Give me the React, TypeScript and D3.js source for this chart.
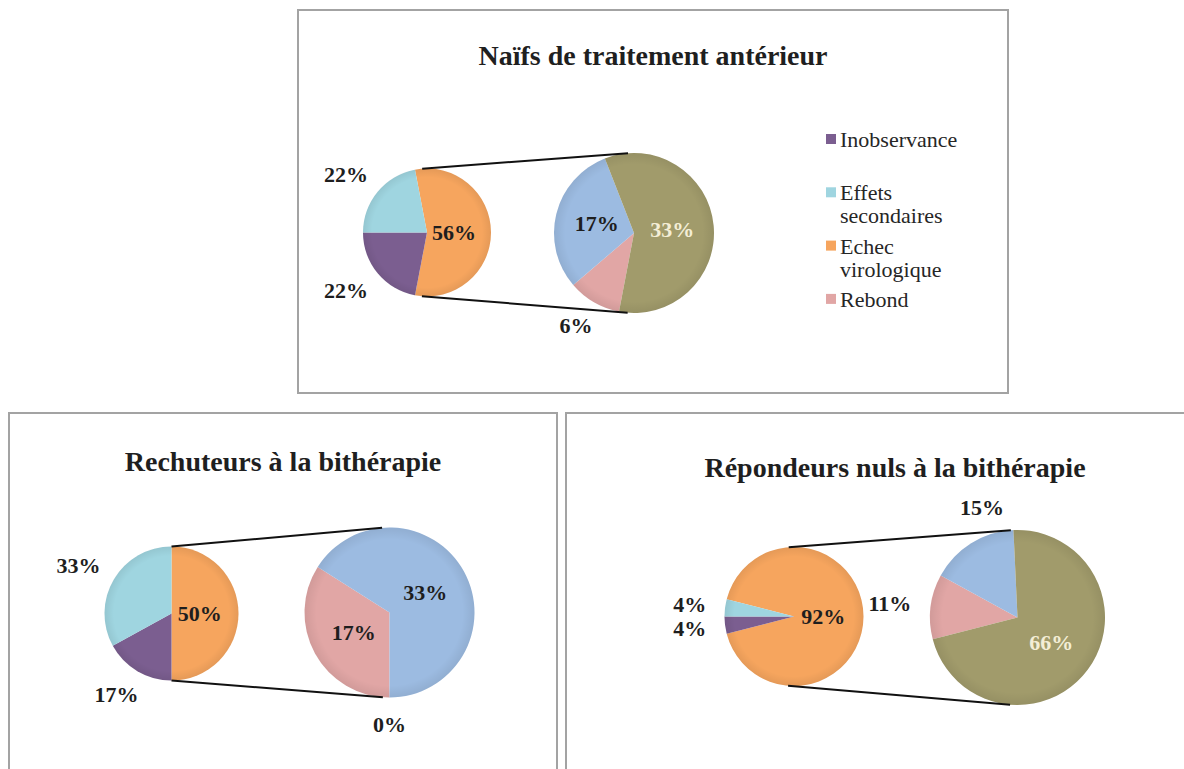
import React from "react";
import * as d3 from "d3";

// ---------- data ----------
const panelTitles = [
  "Naïfs de traitement antérieur",
  "Rechuteurs à la bithérapie",
  "Répondeurs nuls à la bithérapie",
];
// primary pie (in %)
const echecVirologique = [56, 50, 92];
const inobservance = [22, 17, 4];
const effetsSecondaires = [22, 33, 4];
// secondary pie (split of "Echec virologique", in %)
const rebond = [6, 17, 11];
const serieBleue = [17, 33, 15];
const serieOlive = [33, 0, 66];

const legendLabels = ["Inobservance", "Effets secondaires", "Echec virologique", "Rebond"];

// ---------- styles ----------
const C_ORANGE = "#f6a55e";
const C_PURPLE = "#7b5e90";
const C_CYAN = "#9fd5e0";
const C_PINK = "#e1a6a5";
const C_BLUE = "#9cbbe1";
const C_OLIVE = "#a19b6b";
const primaryColors = [C_ORANGE, C_PURPLE, C_CYAN];
const secondaryColors = [C_PINK, C_BLUE, C_OLIVE];
const legendColors = [C_PURPLE, C_CYAN, C_ORANGE, C_PINK];

const SERIF = "'Liberation Serif', 'Times New Roman', serif";

type Layout = {
  box: [number, number, number, number];
  titleX: number;
  titleY: number;
  c1: [number, number];
  r1: number;
  c2: [number, number];
  r2: number;
  secShift?: number[]; // label angle shift (deg) per secondary slice
};

const layouts: Layout[] = [
  { box: [298, 10, 1008, 393], titleX: 653, titleY: 65, c1: [427, 232.5], r1: 64, c2: [634, 233], r2: 80 },
  { box: [9, 413, 557, 820], titleX: 283, titleY: 471, c1: [171.5, 613.5], r1: 67, c2: [389.5, 612.5], r2: 85 },
  { box: [566, 413, 1300, 820], titleX: 895, titleY: 477, c1: [794, 616.5], r1: 69.5, c2: [1017.5, 617.5], r2: 87.5, secShift: [0, 16, 0] },
];

const legendLayout = { x: 826, y0: 147, step: 53.3, lineH: 23, size: 10 };

const TAU = Math.PI * 2;

function pt(c: [number, number], r: number, a: number): [number, number] {
  return [c[0] + r * Math.sin(a), c[1] - r * Math.cos(a)];
}

function labelPos(
  c: [number, number],
  r: number,
  mid: number,
  text: string,
  inside: boolean,
  insideFactor: number
): [number, number] {
  if (inside) return pt(c, r * insideFactor, mid);
  const gap = 19;
  const [ax, ay] = pt(c, r + gap, mid);
  const w = (text.length - 1) * 11 + 22;
  const h = 16;
  return [ax + (Math.sin(mid) * w) / 2, ay - (Math.cos(mid) * h) / 2];
}

function PieOfPie({ i }: { i: number }) {
  const L = layouts[i];
  const primaryVals = [echecVirologique[i], inobservance[i], effetsSecondaires[i]];
  const secondaryVals = [rebond[i], serieBleue[i], serieOlive[i]];
  const total = d3.sum(primaryVals);
  const w = (TAU * echecVirologique[i]) / total;
  const s = Math.PI / 2 - w / 2;
  const e = Math.PI / 2 + w / 2;

  const prim = d3.pie<number>().sort(null).value((d) => d).startAngle(s).endAngle(s + TAU)(primaryVals);
  const sec = d3.pie<number>().sort(null).value((d) => d).startAngle(e).endAngle(e + TAU)(secondaryVals);

  const arc1 = d3.arc<d3.PieArcDatum<number>>().innerRadius(0).outerRadius(L.r1);
  const arc2 = d3.arc<d3.PieArcDatum<number>>().innerRadius(0).outerRadius(L.r2);

  // external tangent lines between the two pies
  const dx = L.c2[0] - L.c1[0];
  const dy = L.c2[1] - L.c1[1];
  const dist = Math.hypot(dx, dy);
  const base = Math.atan2(dy, dx);
  const alpha = Math.acos((L.r1 - L.r2) / dist);
  const aTop = base - alpha + Math.PI / 2;
  const aBot = base + alpha + Math.PI / 2;
  const p1Top = pt(L.c1, L.r1, aTop < s ? s : aTop);
  const p1Bot = pt(L.c1, L.r1, aBot > e ? e : aBot);
  const p2Top = pt(L.c2, L.r2, aTop);
  const p2Bot = pt(L.c2, L.r2, aBot);

  const [bx0, by0, bx1, by1] = L.box;

  return (
    <g>
      <rect x={bx0} y={by0} width={bx1 - bx0} height={by1 - by0} fill="#fff" stroke="#a3a3a3" strokeWidth={2} />
      <text
        x={L.titleX}
        y={L.titleY}
        textAnchor="middle"
        fontFamily={SERIF}
        fontWeight="bold"
        fontSize={28}
        fill="#1f1f1f"
      >
        {panelTitles[i]}
      </text>

      <g transform={`translate(${L.c1[0]},${L.c1[1]})`}>
        {prim.map((d, k) => (
          <path key={k} d={arc1(d) || ""} fill={primaryColors[k]} />
        ))}
        <circle r={L.r1} fill="url(#rim)" />
      </g>
      <g transform={`translate(${L.c2[0]},${L.c2[1]})`}>
        {sec.map((d, k) => (
          <path key={k} d={arc2(d) || ""} fill={secondaryColors[k]} />
        ))}
        <circle r={L.r2} fill="url(#rim)" />
      </g>

      <line x1={p1Top[0]} y1={p1Top[1]} x2={p2Top[0]} y2={p2Top[1]} stroke="#111" strokeWidth={2} />
      <line x1={p1Bot[0]} y1={p1Bot[1]} x2={p2Bot[0]} y2={p2Bot[1]} stroke="#111" strokeWidth={2} />

      {prim.map((d, k) => {
        const txt = `${d.data}%`;
        const mid = (d.startAngle + d.endAngle) / 2;
        const [x, y] = labelPos(L.c1, L.r1, mid, txt, k === 0, 0.42);
        return (
          <text
            key={"p" + k}
            x={x}
            y={y}
            textAnchor="middle"
            dominantBaseline="central"
            fontFamily={SERIF}
            fontWeight="bold"
            fontSize={22}
            fill="#1e1e1e"
          >
            {txt}
          </text>
        );
      })}
      {sec.map((d, k) => {
        const txt = `${d.data}%`;
        const shift = ((L.secShift ? L.secShift[k] : 0) * Math.PI) / 180;
        const mid = (d.startAngle + d.endAngle) / 2 + shift;
        const inside = d.endAngle - d.startAngle > Math.PI / 2;
        const [x, y] = labelPos(L.c2, L.r2, mid, txt, inside, 0.48);
        return (
          <text
            key={"s" + k}
            x={x}
            y={y}
            textAnchor="middle"
            dominantBaseline="central"
            fontFamily={SERIF}
            fontWeight="bold"
            fontSize={22}
            fill={k === 2 && inside ? "#f4eed6" : "#1e1e1e"}
          >
            {txt}
          </text>
        );
      })}
    </g>
  );
}

function Legend() {
  const { x, y0, step, lineH, size } = legendLayout;
  return (
    <g>
      {legendLabels.map((lab, k) => {
        const y = y0 + k * step;
        const words = lab.split(" ");
        return (
          <g key={k}>
            <rect x={x} y={y - 13} width={size} height={size} fill={legendColors[k]} />
            <text x={x + 14} y={y} fontFamily={SERIF} fontSize={22} fill="#262626">
              {words.map((wd, j) => (
                <tspan key={j} x={x + 14} y={y + j * lineH}>
                  {wd}
                </tspan>
              ))}
            </text>
          </g>
        );
      })}
    </g>
  );
}

export default function App() {
  return (
    <svg
      width={1184}
      height={769}
      viewBox="0 0 1184 769"
      style={{ position: "absolute", left: 0, top: 0, background: "#fff" }}
    >
      <defs>
        <radialGradient id="rim" cx="0.5" cy="0.5" r="0.5">
          <stop offset="0.86" stopColor="#000" stopOpacity={0} />
          <stop offset="1" stopColor="#000" stopOpacity={0.07} />
        </radialGradient>
      </defs>
      <rect x={0} y={0} width={1184} height={769} fill="#fff" />
      {panelTitles.map((_, i) => (
        <PieOfPie key={i} i={i} />
      ))}
      <Legend />
    </svg>
  );
}
